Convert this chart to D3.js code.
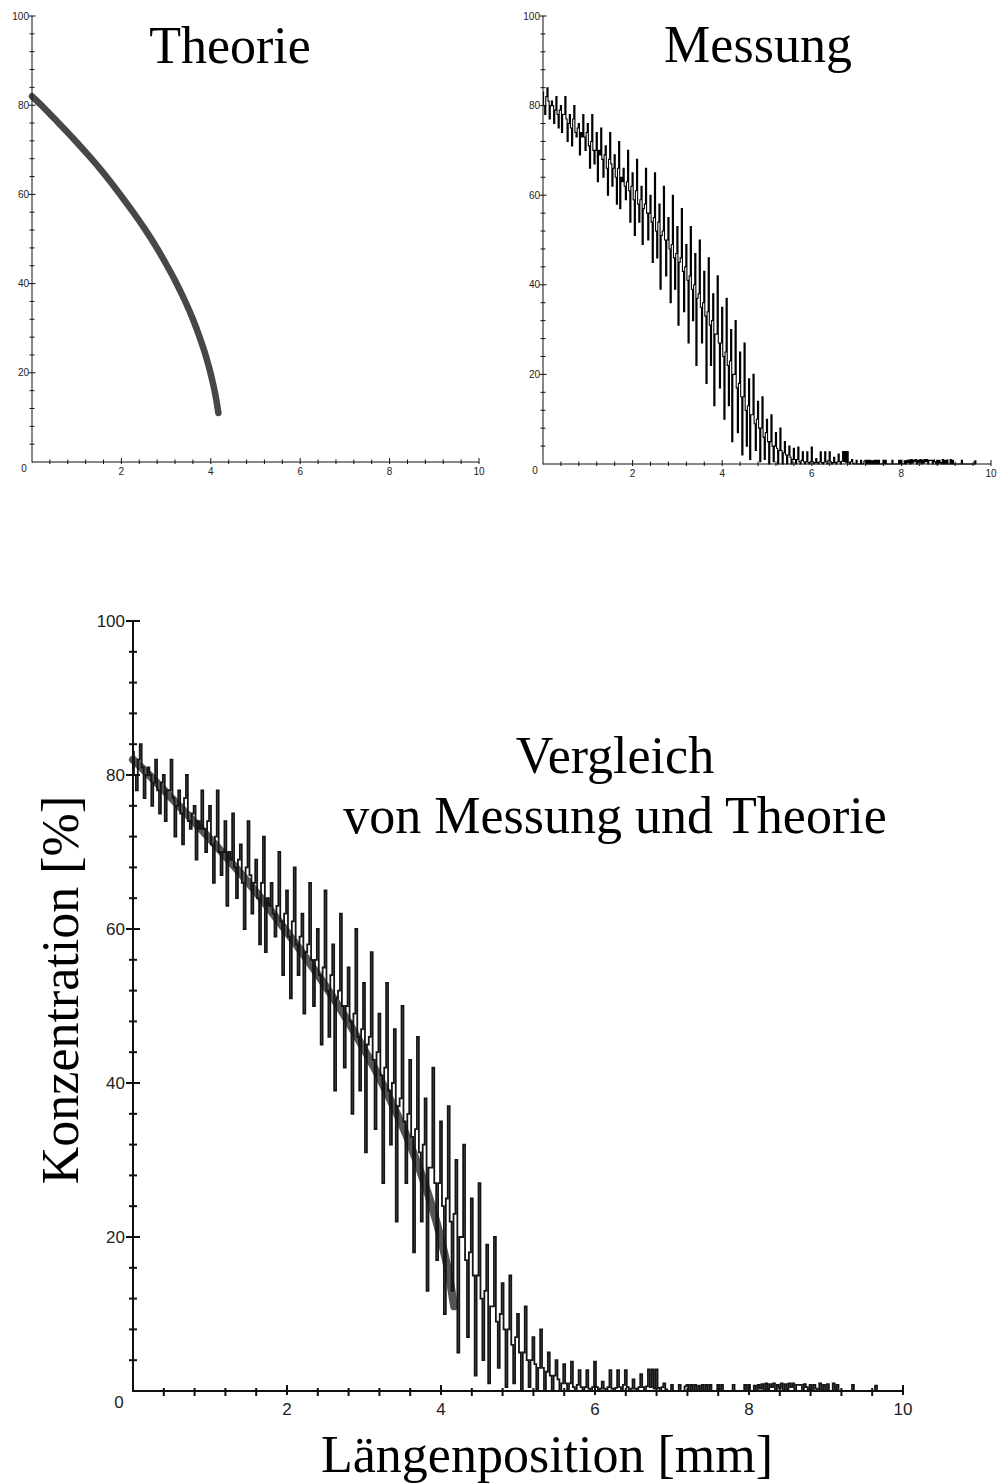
<!DOCTYPE html>
<html>
<head>
<meta charset="utf-8">
<script src="https://cdn.jsdelivr.net/npm/d3@7"></script>
<style>
  html, body { margin: 0; padding: 0; background: #fff; }
  svg { display: block; }
</style>
</head>
<body>
<svg id="chart" width="997" height="1484"></svg>
<script>
// ---------------- DATA ----------------
// Theoretical concentration profile (x in mm, y in %)
const theoryX = [0, 0.25, 0.5, 0.75, 1.0, 1.25, 1.5, 1.75, 2.0, 2.25, 2.5, 2.75, 3.0, 3.2, 3.4, 3.6, 3.75, 3.9, 4.0, 4.1, 4.17];
const theoryY = [82, 79.6, 77, 74.4, 71.7, 68.9, 66, 62.9, 59.6, 56.2, 52.6, 48.7, 44.4, 40.7, 36.6, 32, 28, 23.4, 19.7, 15.2, 11];

// Measured concentration, sampled every 0.025 mm starting at 0 mm
const measureStartX = 0;
const measureStepX = 0.025;
const measureY = [
  // 0.0 - 0.9 mm
  83, 80, 78, 82,   84, 81, 77, 80,   81, 80, 76, 79,   82, 78, 75, 79,   80, 74, 78, 78,
  82, 77, 72, 76,   78, 75, 71, 77,   80, 74, 73, 75,   76, 69, 74, 73,   78, 73, 70, 74,
  // 1.0 - 1.9 mm
  76, 71, 66, 72,   78, 70, 67, 70,   74, 63, 70, 69,   75, 68, 64, 69,   71, 66, 60, 68,
  74, 67, 62, 66,   69, 64, 58, 66,   72, 57, 64, 63,   66, 62, 59, 63,   70, 61, 54, 62,
  // 2.0 - 2.9 mm
  65, 59, 51, 61,   68, 58, 54, 59,   62, 49, 57, 58,   66, 56, 50, 56,   60, 54, 45, 55,
  65, 52, 46, 54,   58, 39, 51, 52,   62, 50, 42, 50,   55, 48, 36, 49,   60, 46, 39, 47,
  // 3.0 - 3.9 mm
  53, 31, 45, 46,   57, 43, 34, 44,   49, 41, 27, 42,   53, 39, 32, 40,   47, 22, 37, 38,
  50, 35, 27, 36,   43, 33, 18, 34,   46, 31, 22, 32,   38, 13, 29, 29,   42, 27, 17, 27,
  // 4.0 - 4.9 mm
  35, 24, 10, 25,   37, 22, 13, 23,   30, 5, 20, 20,    32, 17, 7, 18,    25, 15, 2, 15,
  27, 12, 4, 13,    19, 1, 11, 11,    20, 9, 3, 10,     14, 8, 0.5, 8,    15, 6, 1, 7,
  // 5.0 - 5.9 mm
  10, 5, 0, 5,      11, 4, 0.5, 4,    7, 3.5, 0, 3,     8, 3, 0, 2.5,     5, 2, 0, 2,
  4, 1.5, 0, 1,     3.5, 1, 0, 1,     3.8, 0.5, 0, 0.8, 2.7, 0.5, 0, 0.5, 2.7, 0.3, 0, 0.5,
  // 6.0 - 6.9 mm
  3.8, 0.5, 0, 0.3, 1.2, 0.3, 0, 0.5, 2.7, 0.3, 0, 0.4, 2.7, 0.5, 0, 0.8, 2.7, 0.5, 0, 0.3,
  1.5, 0.3, 0, 0.5, 2.2, 0.5, 0, 0.6, 2.8, 0.5, 2.8, 0.3, 2.8, 0.4, 0, 0.5, 1, 0.2, 0, 0,
  // 7.0 - 7.9 mm
  0.8, 0, 0, 0,     0.8, 0, 0, 0.6,   0.8, 0, 0.8, 0,   0.8, 0, 0.7, 0,   0.8, 0, 0.8, 0,
  0.8, 0, 0, 0,     0.8, 0, 0.8, 0,   0, 0, 0, 0,       0.8, 0, 0, 0,     0, 0, 0.8, 0,
  // 8.0 - 8.9 mm
  0.8, 0, 0, 0.7,   0, 0.8, 0.3, 0.9, 0, 1, 0.2, 0.9,   0.5, 1, 0, 0.8,   0.4, 1, 0, 0.9,
  0.2, 1, 0.5, 1,   0, 0.8, 0.8, 0.8, 0, 0.9, 0.5, 0,   0.8, 0, 0.8, 0.3, 0, 1, 0, 0.8,
  // 9.0 - 9.675 mm
  0, 0.9, 0, 0,     1, 0, 0.8, 0,     0, 0, 0, 0,       0, 0, 0.8, 0,     0, 0, 0, 0,
  0, 0, 0, 0,       0, 0, 0.7, 0
];

// Axis ticks
const xMajorTicks = [0, 2, 4, 6, 8, 10];
const xMinorTicks = [0.4, 0.8, 1.2, 1.6, 2.4, 2.8, 3.2, 3.6, 4.4, 4.8, 5.2, 5.6, 6.4, 6.8, 7.2, 7.6, 8.4, 8.8, 9.2, 9.6];
const yMajorTicks = [0, 20, 40, 60, 80, 100];
const yMinorTicks = [4, 8, 12, 16, 24, 28, 32, 36, 44, 48, 52, 56, 64, 68, 72, 76, 84, 88, 92, 96];

// Texts
const titleTheory = "Theorie";
const titleMeasure = "Messung";
const titleCompareLines = ["Vergleich", "von Messung und Theorie"];
const yAxisTitle = "Konzentration [%]";
const xAxisTitle = "Längenposition [mm]";

// ---------------- DRAW ----------------
const svg = d3.select("#chart");
const theoryPts = theoryX.map((x, i) => ({ x, y: theoryY[i] }));
const measurePts = measureY.map((y, i) => ({ x: measureStartX + i * measureStepX, y }));

function panel(opt) {
  const x = d3.scaleLinear().domain([0, 10]).range([opt.left, opt.right]);
  const y = d3.scaleLinear().domain([0, 100]).range([opt.bottom, opt.top]);
  const g = svg.append("g");

  if (opt.showTheory) {
    g.append("path")
      .datum(theoryPts)
      .attr("fill", "none")
      .attr("stroke", opt.theoryColor)
      .attr("stroke-width", opt.theoryWidth)
      .attr("stroke-linecap", "round")
      .attr("stroke-linejoin", "round")
      .attr("d", d3.line().x(d => x(d.x)).y(d => y(d.y)).curve(d3.curveMonotoneX));
  }
  if (opt.showMeasure) {
    // The recorder draws each sample as a vertical jump (step trace)
    g.append("path")
      .datum(measurePts)
      .attr("fill", "none")
      .attr("stroke", opt.measureColor)
      .attr("stroke-width", opt.measureWidth)
      .attr("d", d3.line().x(d => x(d.x)).y(d => y(d.y)).curve(d3.curveStep));
  }

  const ax = g.append("g").attr("stroke", "#111").attr("stroke-width", opt.axisWidth);
  ax.append("line").attr("x1", x(0)).attr("x2", x(0)).attr("y1", y(0) + opt.axisWidth / 2).attr("y2", y(100));
  ax.append("line").attr("x1", x(0)).attr("x2", x(10)).attr("y1", y(0)).attr("y2", y(0));

  ax.selectAll(".ymaj").data(yMajorTicks.filter(v => v > 0)).enter().append("line")
    .attr("x1", x(0) - opt.majL).attr("x2", x(0) + opt.majR)
    .attr("y1", d => y(d)).attr("y2", d => y(d));
  ax.selectAll(".ymin").data(yMinorTicks).enter().append("line")
    .attr("x1", x(0) - opt.minL).attr("x2", x(0) + opt.minR)
    .attr("y1", d => y(d)).attr("y2", d => y(d));
  ax.selectAll(".xmaj").data(xMajorTicks.filter(v => v > 0)).enter().append("line")
    .attr("x1", d => x(d)).attr("x2", d => x(d))
    .attr("y1", y(0) - opt.xMajUp).attr("y2", y(0) + opt.xMajDown);
  ax.selectAll(".xmin").data(xMinorTicks).enter().append("line")
    .attr("x1", d => x(d)).attr("x2", d => x(d))
    .attr("y1", y(0) - opt.xMinUp).attr("y2", y(0) + opt.xMinDown);

  const lab = g.append("g")
    .attr("font-family", "'Liberation Sans', Arial, sans-serif")
    .attr("font-size", opt.labelSize)
    .attr("fill", "#222");
  lab.selectAll(".yl").data(yMajorTicks.filter(v => v > 0)).enter().append("text")
    .attr("x", x(0) - opt.yLabelGap)
    .attr("y", d => y(d))
    .attr("dy", "0.35em")
    .attr("text-anchor", "end")
    .text(d => d);
  lab.selectAll(".xl").data(xMajorTicks.filter(v => v > 0)).enter().append("text")
    .attr("x", d => x(d))
    .attr("y", y(0) + opt.xLabelOffset)
    .attr("text-anchor", "middle")
    .text(d => d);
  lab.append("text")
    .attr("x", x(0) - opt.zeroDx)
    .attr("y", y(0) + opt.zeroDy)
    .attr("text-anchor", "middle")
    .text(0);

  return { x, y, g };
}

const small = {
  axisWidth: 1, majL: 3.5, majR: 3.5, minL: 2.5, minR: 2.5,
  xMajUp: 4, xMajDown: 2, xMinUp: 2.5, xMinDown: 2,
  labelSize: 10, yLabelGap: 3, xLabelOffset: 13, zeroDx: 8, zeroDy: 10
};

// Top-left: Theorie
panel(Object.assign({}, small, {
  left: 32, right: 479, top: 16, bottom: 462,
  showTheory: true, theoryColor: "#474747", theoryWidth: 6.5, showMeasure: false
}));

// Top-right: Messung
panel(Object.assign({}, small, {
  left: 543, right: 991, top: 16, bottom: 464,
  showTheory: false, showMeasure: true, measureColor: "#000", measureWidth: 1.1
}));

// Bottom: Vergleich
panel({
  left: 133, right: 903, top: 621, bottom: 1391,
  showTheory: true, theoryColor: "#555", theoryWidth: 8, showMeasure: true,
  measureColor: "#151515", measureWidth: 1.8,
  axisWidth: 2, majL: 7, majR: 7, minL: 4, minR: 4,
  xMajUp: 6, xMajDown: 4, xMinUp: 3, xMinDown: 5,
  labelSize: 17, yLabelGap: 8, xLabelOffset: 24, zeroDx: 14, zeroDy: 17
});

// Titles
const serif = "'Liberation Serif', 'Times New Roman', Times, serif";
function title(x, y, txt) {
  svg.append("text").attr("x", x).attr("y", y).attr("text-anchor", "middle")
    .attr("font-family", serif).attr("font-size", 52).attr("fill", "#000").text(txt);
}
title(230, 63, titleTheory);
title(758, 62, titleMeasure);
title(615, 773, titleCompareLines[0]);
title(615, 833, titleCompareLines[1]);
title(547, 1472, xAxisTitle);

svg.append("text")
  .attr("transform", "translate(78,990) rotate(-90)")
  .attr("text-anchor", "middle")
  .attr("font-family", serif).attr("font-size", 52).attr("fill", "#000").text(yAxisTitle);
</script>
</body>
</html>
